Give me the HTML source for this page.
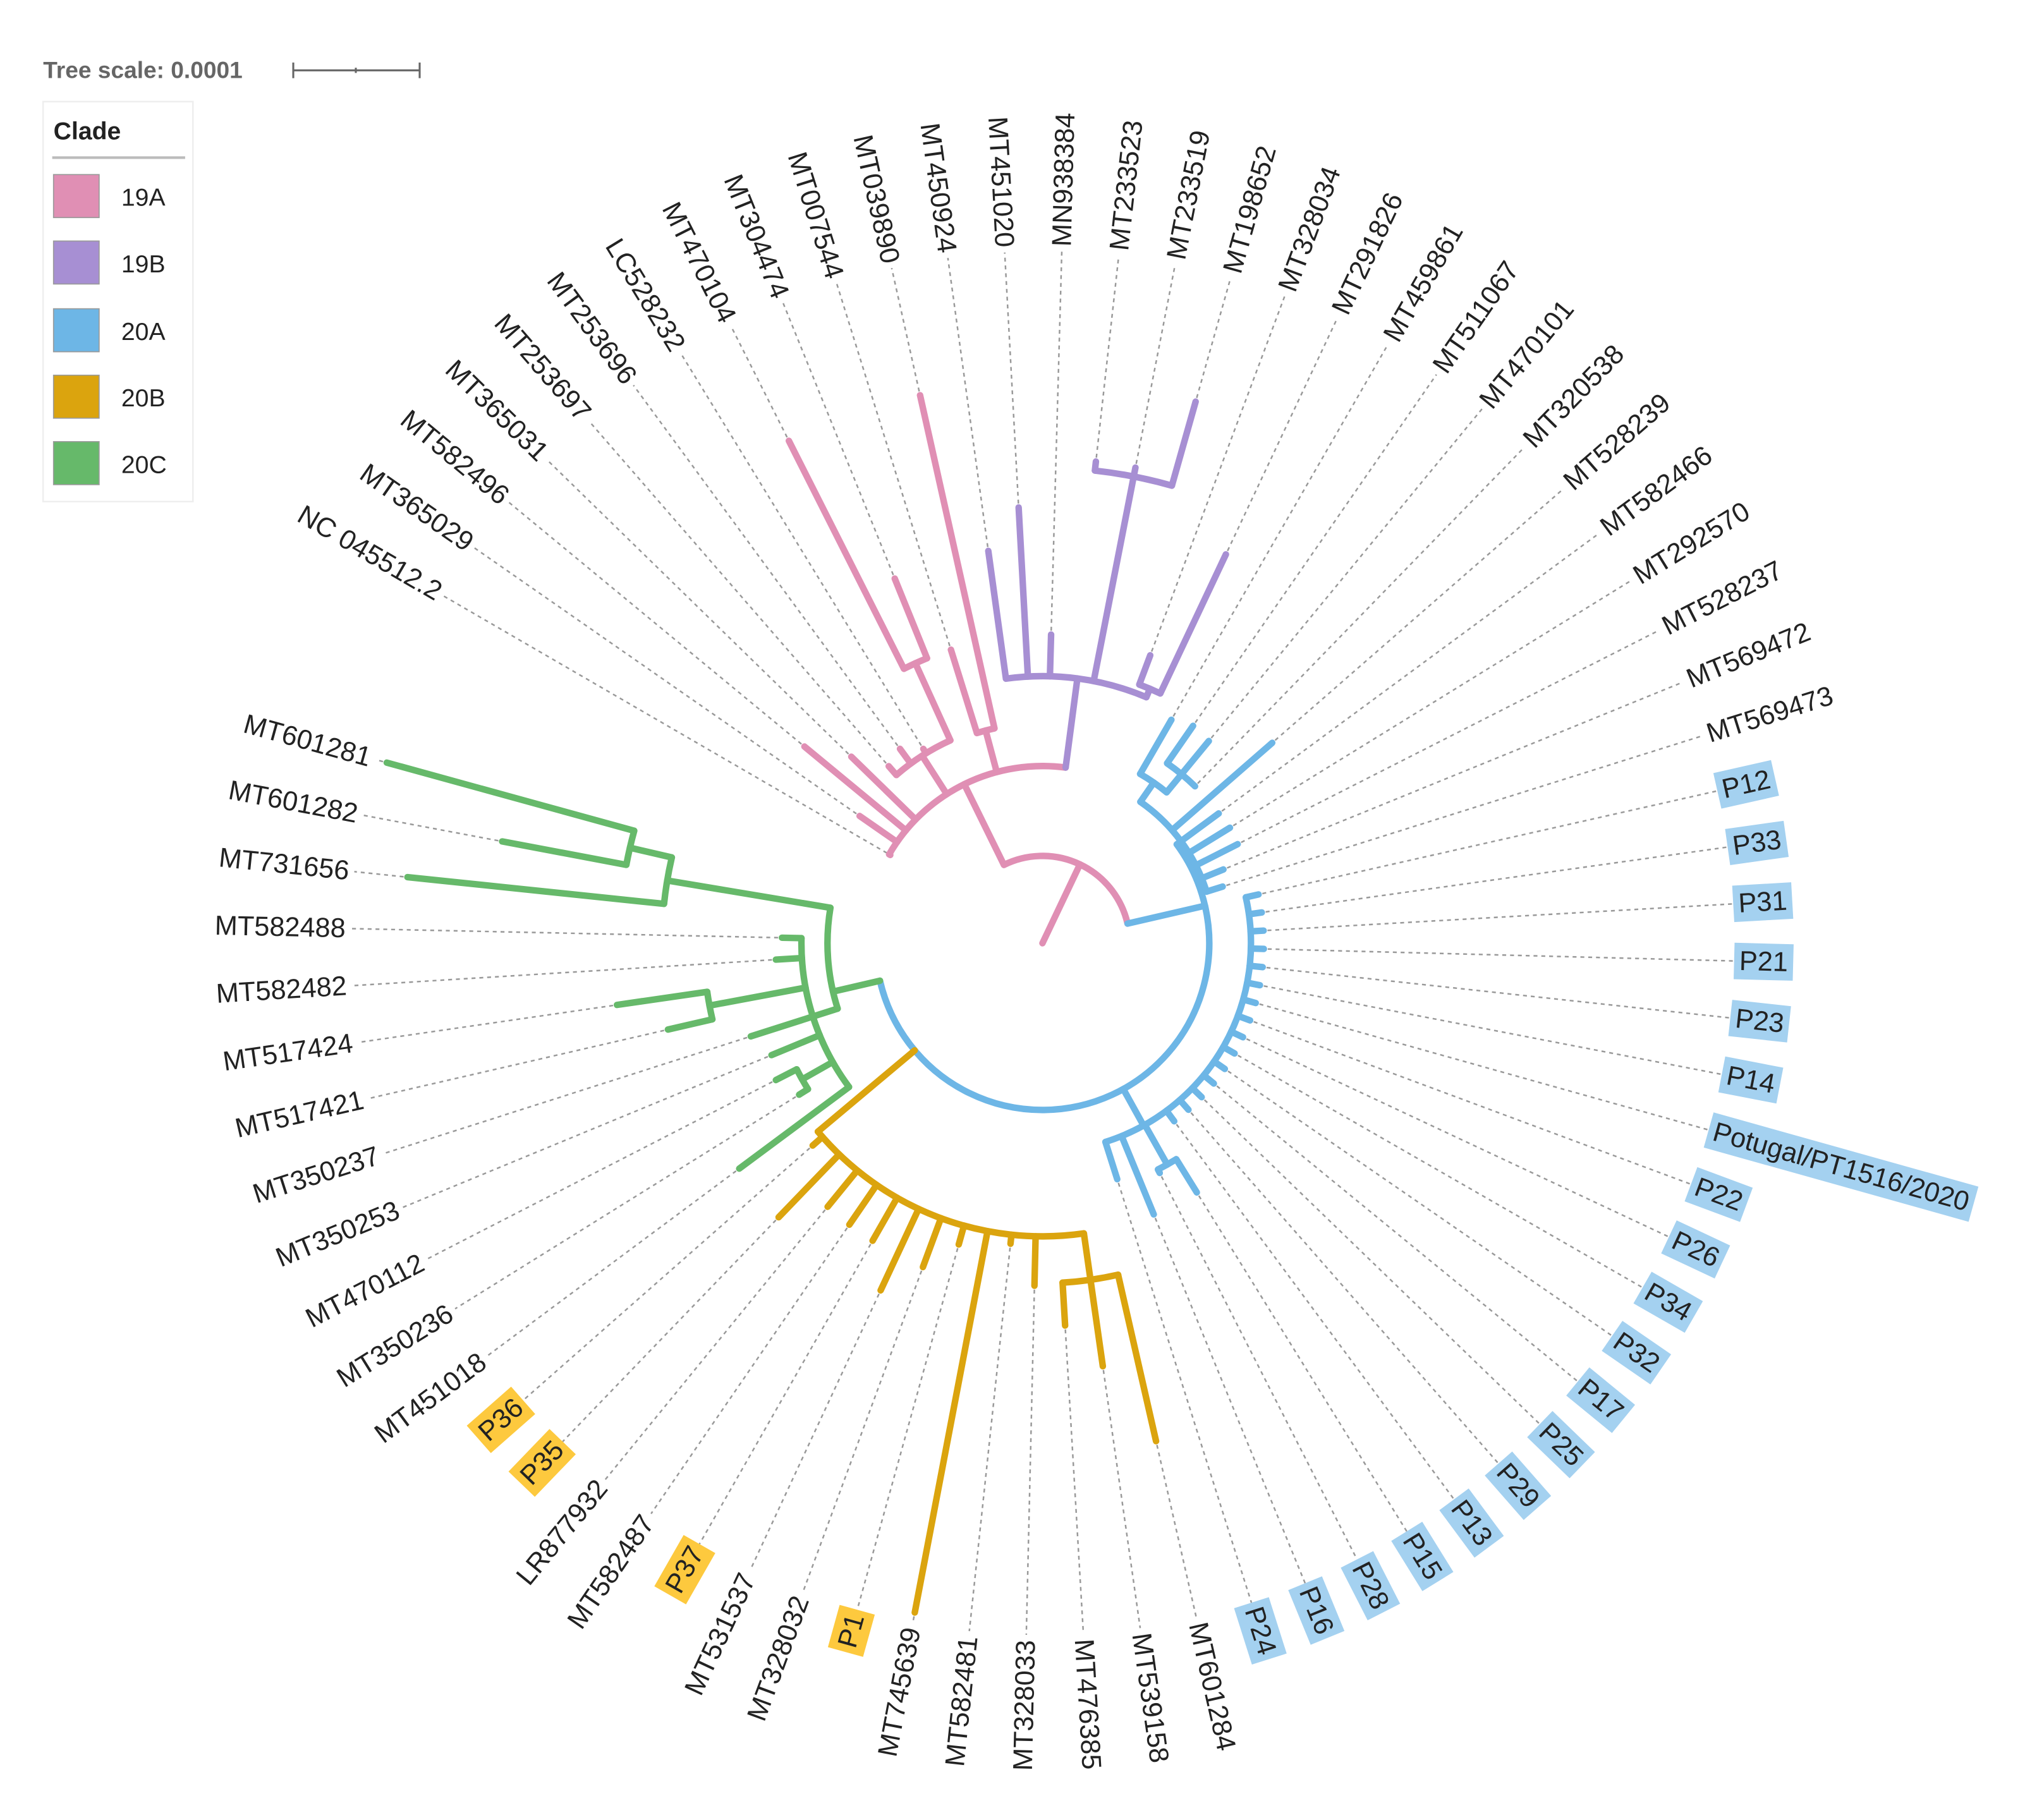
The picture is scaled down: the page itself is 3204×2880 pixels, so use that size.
<!DOCTYPE html>
<html><head><meta charset="utf-8"><style>
html,body{margin:0;padding:0;background:#fff}
svg{display:block}
text{font-family:"Liberation Sans",sans-serif}
</style></head><body>
<svg id="chart" width="3204" height="2880" viewBox="0 0 1554 1397" xmlns="http://www.w3.org/2000/svg">
<rect width="1554" height="1397" fill="#fff"/>
<g>
<text x="33" y="60" font-size="18" font-weight="bold" fill="#666">Tree scale: 0.0001</text>
<line x1="225" y1="54" x2="322" y2="54" stroke="#666" stroke-width="1.5"/>
<line x1="225" y1="48" x2="225" y2="60" stroke="#666" stroke-width="1.5"/>
<line x1="322" y1="48" x2="322" y2="60" stroke="#666" stroke-width="1.5"/>
<line x1="273" y1="52" x2="273" y2="56" stroke="#666" stroke-width="1.5"/>
</g>
<g>
<rect x="33" y="78" width="115" height="307" fill="#fff" stroke="#eee" stroke-width="1.2"/>
<text x="41" y="107" font-size="19" font-weight="bold" fill="#222">Clade</text>
<line x1="40" y1="121" x2="142" y2="121" stroke="#bbb" stroke-width="2"/>
<g><rect x="41" y="134" width="35" height="33" fill="#e08fb4" stroke="#999" stroke-width="0.8"/><text x="93" y="158" font-size="19" fill="#222">19A</text></g>
<g><rect x="41" y="185" width="35" height="33" fill="#a78fd3" stroke="#999" stroke-width="0.8"/><text x="93" y="209" font-size="19" fill="#222">19B</text></g>
<g><rect x="41" y="237" width="35" height="33" fill="#6db6e6" stroke="#999" stroke-width="0.8"/><text x="93" y="261" font-size="19" fill="#222">20A</text></g>
<g><rect x="41" y="288" width="35" height="33" fill="#dba40e" stroke="#999" stroke-width="0.8"/><text x="93" y="312" font-size="19" fill="#222">20B</text></g>
<g><rect x="41" y="339" width="35" height="33" fill="#66b96a" stroke="#999" stroke-width="0.8"/><text x="93" y="363" font-size="19" fill="#222">20C</text></g>
</g>
<g id="dashes"></g>
<g id="branches"></g>
<g id="labels"></g>
</svg>
<script>
const leafNames = ["MT601281","MT601282","MT731656","MT582488","MT582482","MT517424","MT517421","MT350237","MT350253","MT470112","MT350236","MT451018","P36","P35","LR877932","MT582487","P37","MT531537","MT328032","P1","MT745639","MT582481","MT328033","MT476385","MT539158","MT601284","P24","P16","P28","P15","P13","P29","P25","P17","P32","P34","P26","P22","Potugal/PT1516/2020","P14","P23","P21","P31","P33","P12","MT569473","MT569472","MT528237","MT292570","MT582466","MT528239","MT320538","MT470101","MT511067","MT459861","MT291826","MT328034","MT198652","MT233519","MT233523","MN938384","MT451020","MT450924","MT039890","MT007544","MT304474","MT470104","LC528232","MT253696","MT253697","MT365031","MT582496","MT365029","NC 045512.2"];
const tipRadius = [522,422,490,200,205,330,295,235,225,230,220,290,
 235,292,261,262,263,294,265,240,523,232,263,294,328,392,
 190,225,198,225,170,170,170,170,170,170,170,170,170,170,170,170,170,170,170,
 145,150,168,169,168,234,168,201,203,198,
 330,236,432,372,372,237,335,304,
 431,236,302,432,175,185,180,205,237,171,135];
const highlightLeaves = ["P36","P35","P37","P1","P24","P16","P28","P15","P13","P29","P25","P17","P32","P34","P26","P22","Potugal/PT1516/2020","P14","P23","P21","P31","P33","P12"];
const orangeBoxes = ["P36","P35","P37","P1"];
const cladeColors = {pink:"#e08fb4",purple:"#a78fd3",blue:"#6db6e6",orange:"#dba40e",green:"#66b96a"};
const CX=800, CY=724, LABEL_R=535, A0=195.4, STEP=4.73;
function leafAngle(i){return A0-(i-1)*STEP;}
function rng(a,b){const o=[];for(let i=a;i<=b;i++)o.push(i);return o;}
const N1={r:236,col:"pink",c:[67,66]};
const N2={r:171,col:"pink",c:[70,69,68,N1]};
const N3={r:169,col:"pink",c:[65,64]};
const Pu2={r:365,col:"purple",c:[60,59,58]};
const Pu3={r:212,col:"purple",c:[57,56]};
const Pu={r:205,col:"purple",c:[63,62,61,Pu2,Pu3]};
const A={r:136,col:"pink",c:[74,73,72,71,N2,N3,Pu]};
const gA1={r:325,col:"green",c:[1,2]};
const gA={r:292,col:"green",c:[gA1,3]};
const gB1={r:260,col:"green",c:[6,7]};
const gB2={r:212,col:"green",c:[10,11]};
const gB={r:185,col:"green",c:[4,5,gB1,8,9,gB2,12]};
const G={r:165,col:"green",a:167,c:[gA,gB]};
const Or2={r:261,col:"orange",c:[24,25,26]};
const Or={r:225,col:"orange",a:140,c:rng(13,23).concat([Or2])};
const O1={r:195,col:"blue",c:[29,30]};
const O={r:160,col:"blue",a:61,c:[27,28,O1].concat(rng(31,45))};
const U2={r:168,col:"blue",c:[54,53,52]};
const U1={r:150,col:"blue",c:[55,U2]};
const U={r:132,col:"blue",c:[U1,51,50,49,48,47,46]};
const B={r:128,col:"blue",a:-13,c:[G,Or,O,U]};
const ROOT={r:67,col:"pink",c:[A,B]};

const NS="http://www.w3.org/2000/svg";
const gB_=document.getElementById('branches'), gD=document.getElementById('dashes'), gL=document.getElementById('labels');
function pt(a,r){const t=a*Math.PI/180;return [CX+r*Math.cos(t),CY+r*Math.sin(t)];}
function angleOf(n){
  if(typeof n==="number")return leafAngle(n);
  const as=n.c.map(angleOf);
  n._min=Math.min(...as);n._max=Math.max(...as);
  if(n.a!==undefined){n._min=Math.min(n._min,n.a);n._max=Math.max(n._max,n.a);return n.a;}
  return (n._min+n._max)/2;
}
function radiusOf(n){return typeof n==="number"?tipRadius[n-1]:n.r;}
function line(a,r1,r2,col,name){
  const p1=pt(a,r1),p2=pt(a,r2);
  const l=document.createElementNS(NS,'line');
  l.setAttribute('x1',p1[0]);l.setAttribute('y1',p1[1]);l.setAttribute('x2',p2[0]);l.setAttribute('y2',p2[1]);
  l.setAttribute('stroke',col);l.setAttribute('stroke-width','5');l.setAttribute('stroke-linecap','round');
  
  
  gB_.appendChild(l);
}
function arc(a1,a2,r,col){
  if(a2-a1<0.01)return;
  const p1=pt(a1,r),p2=pt(a2,r);
  const large=(a2-a1)>180?1:0;
  const p=document.createElementNS(NS,'path');
  p.setAttribute('d',`M${p1[0]},${p1[1]} A${r},${r} 0 ${large} 1 ${p2[0]},${p2[1]}`);
  p.setAttribute('fill','none');p.setAttribute('stroke',col);p.setAttribute('stroke-width','5');p.setAttribute('stroke-linecap','round');
  
  
  gB_.appendChild(p);
}
function draw(n){
  angleOf(n);
  arc(n._min,n._max,n.r,cladeColors[n.col]);
  n.c.forEach(ch=>{
    const a=angleOf(ch), r=radiusOf(ch);
    const col=typeof ch==="number"?cladeColors[n.col]:cladeColors[ch.col];
    line(a,n.r,r,col,typeof ch==="number"?'leaf-branch':'internal-branch');
    if(typeof ch!=="number")draw(ch);
  });
}
const ra=angleOf(ROOT);
line(ra,0,ROOT.r,cladeColors.pink,'root-branch');
draw(ROOT);

leafNames.forEach((name,k)=>{
  const i=k+1, a=leafAngle(i), r=tipRadius[k];
  const p1=pt(a,r+3),p2=pt(a,LABEL_R-4);
  const d=document.createElementNS(NS,'line');
  d.setAttribute('x1',p1[0]);d.setAttribute('y1',p1[1]);d.setAttribute('x2',p2[0]);d.setAttribute('y2',p2[1]);
  d.setAttribute('stroke','#999');d.setAttribute('stroke-width','1.2');d.setAttribute('stroke-dasharray','3 3');
  
  
  gD.appendChild(d);
  const g=document.createElementNS(NS,'g');
  g.setAttribute('transform',`translate(${CX},${CY}) rotate(${a})`);
  
  
  let norm=((a%360)+360)%360;
  const flip = norm>90 && norm<270;
  const t=document.createElementNS(NS,'text');
  t.textContent=name;
  t.setAttribute('font-size','21');t.setAttribute('fill','#222');
  t.setAttribute('dominant-baseline','central');
  t.setAttribute('x',LABEL_R);t.setAttribute('y',0);
  if(flip){t.setAttribute('text-anchor','end');t.setAttribute('transform',`rotate(180 ${LABEL_R} 0)`);}
  if(highlightLeaves.includes(name)){
    const w=name.length*11.7+6;
    const rc=document.createElementNS(NS,'rect');
    rc.setAttribute('x',LABEL_R-4);rc.setAttribute('y',-14);rc.setAttribute('width',w);rc.setAttribute('height',28);
    rc.setAttribute('fill',orangeBoxes.includes(name)?'#fdc93e':'#a4d1f0');
    
    
    g.appendChild(rc);
  }
  g.appendChild(t);
  gL.appendChild(g);
  if(highlightLeaves.includes(name)){
    try{const w=t.getComputedTextLength()+8;g.querySelector('rect').setAttribute('width',w);}catch(e){}
  }
});
</script>
</body></html>
